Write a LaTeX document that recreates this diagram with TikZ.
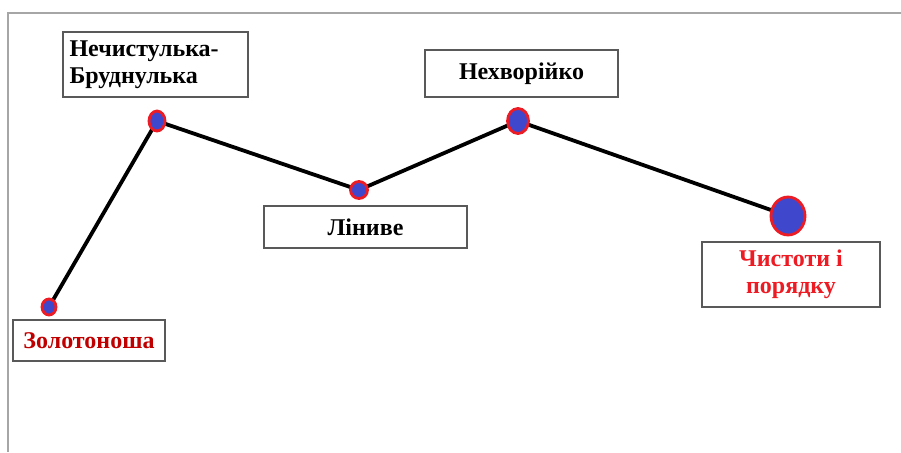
\documentclass[tikz,border=0pt]{standalone}
\usepackage{fontspec}
\setmainfont{Liberation Serif}
\usetikzlibrary{shapes.geometric}
\definecolor{dotblue}{HTML}{3F48CC}
\definecolor{dotred}{HTML}{ED1C24}
\definecolor{darkred}{HTML}{C00000}
\definecolor{boxgray}{HTML}{595959}
\begin{document}
\begin{tikzpicture}[x=1pt,y=-1pt,
  lbl/.style={draw=boxgray,line width=1.2pt,fill=white,inner sep=0pt,font=\bfseries\fontsize{24}{27}\selectfont,align=center},
  pt/.style={ellipse,draw=dotred,line width=2.8pt,fill=dotblue,inner sep=0pt},
  link/.style={line width=3.8pt,black}]
\useasboundingbox (0,0) rectangle (901,452);
\fill[white] (0,0) rectangle (901,452);
\draw[gray!70,line width=1.2pt] (901,13) -- (8,13) -- (8,452);
% labels
\node[lbl,minimum width=185,minimum height=65,align=left,text width=172] (b1) at (155.5,64.5) {Нечистулька-\\Бруднулька};
\node[lbl,minimum width=152,minimum height=41,text=darkred] (b0) at (89,340.5) {Золотоноша};
\node[lbl,minimum width=203,minimum height=42] (b2) at (365.5,227) {Ліниве};
\node[lbl,minimum width=193,minimum height=47] (b3) at (521.5,73.5) {Нехворійко};
\node[lbl,minimum width=178,minimum height=65,text=dotred] (b4) at (791,274.5) {Чистоти і\\порядку};
% points
\coordinate (p0) at (49,307);
\coordinate (p1) at (157,121);
\coordinate (p2) at (359,190);
\coordinate (p3) at (518,121);
\coordinate (p4) at (788,216);
\draw[link] (p0) -- (p1) -- (p2) -- (p3) -- (p4);
\node[pt,minimum width=14,minimum height=16] (d0) at (p0) {};
\node[pt,minimum width=16,minimum height=20] (d1) at (p1) {};
\node[pt,minimum width=17,minimum height=17] (d2) at (p2) {};
\node[pt,minimum width=21,minimum height=25] (d3) at (p3) {};
\node[pt,minimum width=34,minimum height=38] (d4) at (p4) {};
\end{tikzpicture}
\end{document}
